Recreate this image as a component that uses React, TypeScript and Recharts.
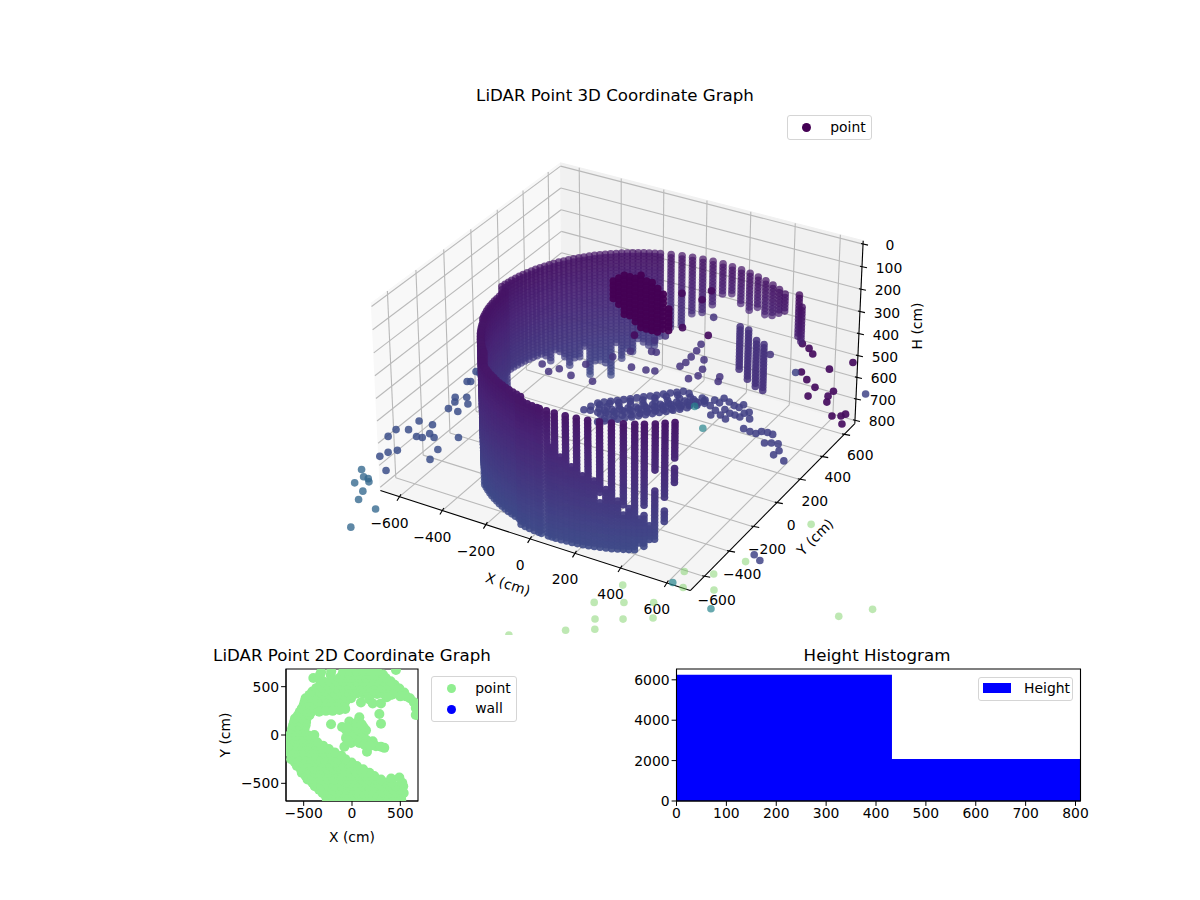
import {
  Area,
  AreaChart,
  Customized,
  ReferenceArea,
  Scatter,
  ScatterChart,
  XAxis,
  YAxis,
} from "recharts";

const FONT = "'DejaVu Sans', sans-serif";
const MINUS = "\u2212";

// ---- 3D panel values (cm) ----
const xLimits = [-690, 700];
const yLimits = [-510, 900];
const hLimits = [-15, 815];
const xTicks = [-600, -400, -200, 0, 200, 400, 600];
const yTicks = [-400, -200, 0, 200, 400, 600, 800];
const yTickLabels = [-600, -400, -200, 0, 200, 400, 600];
const hTicks = [0, 100, 200, 300, 400, 500, 600, 700, 800];

// wall columns round the room, and the height rows the scanner stepped through
const ringX = [606, 578, 548, 515, 480, 443, 405, 365, 323, 281, 237, 193, 148, 103, 57, 12, -33, -77, -121, -163, -205, -245, -283, -320, -355, -388, -418, -446, -471, -494, -514, -531, -545, -556, -564, -568, -535, -533, -529, -521, -510, -496, -479, -459, -436, -411, -383, -353, -320, -285, -248, -210, -170, -128, -86, -57, -13, 32, 77];
const ringY = [588, 624, 658, 689, 718, 745, 769, 790, 809, 824, 837, 846, 852, 856, 856, 852, 846, 837, 824, 809, 790, 769, 745, 718, 689, 658, 624, 588, 550, 511, 470, 428, 385, 341, 296, 251, 196, 151, 106, 61, 17, -26, -68, -109, -148, -186, -222, -256, -317, -346, -373, -397, -418, -437, -452, -485, -494, -500, -504];
const ringTop = [0, 236, 212, 0, 0, 272, 272, 272, 272, 272, 272, 272, 272, 272, 272, 272, 272, 272, 272, 272, 272, 272, 272, 272, 272, 272, 272, 272, 272, 272, 272, 272, 272, 272, 272, 272, 272, 272, 272, 272, 272, 272, 285, 285, 285, 285, 285, 285, 285, 300, 300, 300, 300, 300, 300, 300, 300, 300, 300];
const ringBottom = [0, 404, 404, 0, 0, 356, 400, 430, 440, 430, 460, 450, 404, 428, 490, 540, 560, 620, 640, 690, 730, 700, 750, 720, 812, 788, 716, 764, 740, 692, 716, 700, 700, 700, 700, 700, 740, 850, 850, 850, 850, 850, 884, 884, 884, 884, 884, 884, 884, 884, 884, 884, 884, 884, 884, 884, 884, 884, 884];
const hRows = [212, 228, 244, 260, 276, 292, 308, 324, 340, 356, 372, 388, 404, 420, 436, 452, 468, 484, 500, 516, 532, 548, 564, 580, 596, 612, 628, 644, 660, 676, 692, 708, 724, 740, 756, 772, 788, 804, 820, 836, 852, 868, 884];

// extra columns where the wall reads denser, left and back
const fillX = [-184, -225, -264, -302, -338, -372, -403, -432, -459, -483, -504, -523, -538, -551, -560, -566, -570, -535, -531, -525, -516, -503, -488, -469, -448, -424, -397, -368, -337, -303, -267, -229, -190, -149, -107, -64, -35, 10, 45];
const fillY = [800, 780, 757, 732, 704, 674, 641, 606, 569, 531, 491, 449, 407, 363, 319, 274, 229, 173, 128, 83, 39, -5, -47, -89, -129, -167, -204, -239, -302, -332, -360, -385, -408, -428, -445, -459, -490, -498, -502];
const fillTop = [272, 272, 272, 272, 272, 272, 272, 272, 272, 272, 272, 272, 272, 272, 272, 272, 272, 272, 272, 272, 272, 272, 272, 285, 285, 285, 285, 285, 285, 300, 300, 300, 300, 300, 300, 300, 300, 300, 300];
const fillBottom = [730, 720, 760, 800, 880, 790, 860, 770, 800, 720, 740, 700, 700, 700, 700, 700, 720, 850, 850, 850, 850, 850, 884, 884, 884, 884, 884, 884, 884, 884, 884, 884, 884, 884, 884, 884, 884, 884, 884];

// separate columns on the right of the front wall, with the gaps they show
const frontX = [535, 506, 477, 443, 412, 374, 333, 290, 246, 202, 157, 111];
const frontY = [-337, -361, -384, -406, -424, -443, -461, -475, -487, -496, -501, -504];
const frontBottom = [590, 760, 850, 870, 884, 884, 884, 884, 884, 884, 884, 884];
const frontHoleTop = [470, 650, 530, 680, 0, 680, 0, 640, 0, 0, 0, 0];
const frontHoleBottom = [500, 700, 600, 720, 0, 710, 0, 660, 0, 0, 0, 0];

// lower layer that closes the gaps between the front columns
const massX = [94, 134, 180, 224, 268, 312, 354, 393, 428, 460];
const massY = [-504, -503, -499, -492, -481, -468, -452, -434, -415, -395];
const massTop = [465, 490, 520, 550, 580, 610, 650, 690, 730, 770];
const massBottom = [884, 884, 884, 884, 884, 884, 884, 884, 860, 840];

// lower parts of the back wall on the right
const strandX = [193, 237, 281, 323];
const strandY = [846, 837, 824, 809];
const strandTop = [548, 548, 572, 572];
const strandBottom = [764, 788, 812, 812];

// dark blob under the scanner
const blobX = [-80, -55, -30, -5, 20, 45, 70, 95, 120, 145, 170];
const blobTop = [123, 107, 95, 88, 81, 79, 81, 87, 109, 129, 193];
const blobBottom = [230, 256, 281, 297, 305, 320, 328, 320, 323, 315, 309];
const blobRows = [80, 100, 120, 140, 160, 180, 200, 220, 240, 260, 280, 300, 320];

// blue floor clutter, h = 895: [x, y]
const floorBand = [
  [-250, 440], [-235, 470], [-220, 455], [-210, 490], [-195, 480], [-185, 510], [-170, 505], [-160, 535], [-145, 525], [-135, 560],
  [-120, 550], [-110, 585], [-95, 575], [-85, 610], [-70, 600], [-60, 630], [-45, 625], [-35, 655], [-20, 650], [-10, 680],
  [5, 670], [15, 705], [30, 700], [40, 735], [55, 725], [65, 765], [-240, 500], [-200, 530], [-165, 565], [-125, 600],
  [-90, 640], [-50, 675], [-15, 715], [20, 745],
  [-230, 430], [-205, 450], [-180, 470], [-155, 500], [-130, 520], [-105, 550], [-80, 570], [-55, 595], [-30, 620], [-5, 645],
  [20, 665], [45, 690], [70, 720], [85, 745], [-260, 470], [-245, 530], [-215, 555], [-180, 590], [-140, 625], [-105, 665],
  [-70, 700], [-35, 735], [0, 770], [-285, 440], [-275, 500], [-300, 470], [-310, 430],
  [-289, 508], [-270, 528], [-250, 548], [-230, 568], [-210, 588], [-190, 608], [-170, 628], [-150, 650], [-130, 670], [-110, 690], [-90, 712], [-70, 735], [-50, 755], [-30, 775],
  [-211, 372], [-190, 392], [-170, 412], [-150, 432], [-130, 455], [-110, 478], [-90, 500], [-70, 522], [-50, 545], [-30, 568], [-10, 590], [10, 612], [30, 635], [50, 660],
  [-200, 410], [-175, 445], [-150, 470], [-120, 490], [-95, 520], [-75, 545], [-50, 570], [-25, 595], [0, 620], [25, 650], [50, 680], [75, 700], [95, 730],
];
// floor patches on the right, h = 850: [x, y]
const floorPatch = [
  [120, 687], [160, 657], [154, 707], [197, 633], [182, 697], [180, 741], [227, 659], [213, 724], [259, 642], [245, 707],
  [284, 639], [270, 703], [309, 635], [275, 733], [310, 672], [324, 689], [199, 589], [233, 609], [266, 591], [351, 641],
  [367, 558], [400, 550], [428, 548], [440, 574], [465, 579], [490, 576], [493, 498], [517, 512], [544, 519], [572, 472], [568, 432], [625, 410],
];

// sparse points left of the wall: [x, y]
const leftFloor = [
  [-814, -210], [-811, -272], [-770, -185], [-772, -104], [-708, -103], [-712, -215], [-688, -210], [-679, -169], [-647, -186], [-562, -137],
  [-582, -259], [-567, -340], [-741, -378], [-752, -421], [-718, -346], [-670, -500], [-751, 136], [-724, 42], [-731, 102], [-678, 41],
  [-710, 160], [-676, 115], [-794, 366], [-772, 360], [-780, 274], [-767, 281],
];
const leftOutside = [
  [-790, -497], [-756, -596], [-752, -539], [-728, -542], [-712, -561], [-693, -632], [-672, -693], [-575, -719], [-583, -878],
];

// sparse points inside the room at h = 600: [x, y]
const roomScatter = [
  [-157, 720], [-78, 702], [-97, 646], [-137, 514], [-62, 557], [-42, 560], [-67, 399], [-5, 408], [30, 419], [99, 504],
  [279, 508], [292, 470], [368, 778], [16, 948], [-176, 437], [-243, 216], [-144, 218], [-392, 239], [-337, 198], [-312, 240], [-239, 327],
  [104, 544], [100, 597], [94, 655], [83, 713], [157, 601], [189, 529], [200, 471], [178, 431],
];

// dark points at mid height: [x, y, h]
const darkScatter = [
  [107, 499, 250], [202, 491, 250], [197, 579, 250], [248, 245, 250], [117, 96, 250], [365, 239, 250],
  [494, 814, 530], [535, 792, 530], [569, 757, 530], [683, 677, 530], [740, 774, 530], [597, 600, 530], [644, 554, 530], [700, 514, 530],
  [708, 437, 530], [776, 476, 530], [777, 522, 530], [793, 431, 530], [859, 342, 530], [889, 360, 530], [898, 382, 530], [920, 305, 530],
];
const blueScatter = [[602, 537, 500], [917, 519, 500], [846, -271, 850], [883, -296, 850]];
const tealScatter = [[92, 649, 870], [207, 506, 870], [666, -583, 860], [880, -681, 850]];

// far points below the box: [x, y, h]
const farPoints = [
  [521, -706, 850], [488, -861, 850], [583, -806, 850], [546, -955, 850], [635, -904, 850], [513, -1110, 820], [601, -1051, 820], [352, -1240, 820], [726, -842, 850],
  [674, -508, 850], [777, -467, 850], [723, -607, 850], [830, -564, 850], [840, -330, 850], [934, 34, 850], [678, -751, 850], [1338, -555, 800], [1424, -451, 800],
];

// ---- 2D panel values (cm) ----
const lowerBand = [
  [-260, -670], [-190, -670], [-120, -670], [-50, -670], [20, -670], [90, -670], [160, -670], [230, -670], [300, -670], [370, -670], [440, -670], [510, -670],
  [-270, -635], [-200, -635], [-130, -635], [-60, -635], [10, -635], [80, -635], [150, -635], [220, -635], [290, -635], [360, -635], [430, -635], [510, -635],
  [-305, -600], [-235, -600], [-165, -600], [-95, -600], [-25, -600], [45, -600], [115, -600], [185, -600], [255, -600], [325, -600], [395, -600], [465, -600], [535, -600],
  [-340, -565], [-270, -565], [-200, -565], [-130, -565], [-60, -565], [10, -565], [80, -565], [150, -565], [220, -565], [290, -565], [360, -565], [430, -565], [510, -565],
  [-385, -530], [-315, -530], [-245, -530], [-175, -530], [-105, -530], [-35, -530], [35, -530], [105, -530], [175, -530], [245, -530], [315, -530], [385, -530], [455, -530], [530, -530],
  [-410, -495], [-340, -495], [-270, -495], [-200, -495], [-130, -495], [-60, -495], [10, -495], [80, -495], [150, -495], [220, -495], [290, -495], [350, -495], [410, -490], [520, -495],
  [-460, -460], [-390, -460], [-320, -460], [-250, -460], [-180, -460], [-110, -460], [-40, -460], [30, -460], [100, -460], [170, -460], [240, -460], [300, -460], [405, -450], [490, -440],
  [-480, -425], [-410, -425], [-340, -425], [-270, -425], [-200, -425], [-130, -425], [-60, -425], [10, -425], [80, -425], [150, -425], [230, -425],
  [-520, -390], [-450, -390], [-380, -390], [-310, -390], [-240, -390], [-170, -390], [-100, -390], [-30, -390], [40, -390], [110, -390], [180, -390],
  [-530, -355], [-460, -355], [-390, -355], [-320, -355], [-250, -355], [-180, -355], [-110, -355], [-40, -355], [30, -355], [115, -355],
  [-570, -320], [-500, -320], [-430, -320], [-360, -320], [-290, -320], [-220, -320], [-150, -320], [-80, -320], [-10, -320], [50, -320],
  [-590, -285], [-520, -285], [-450, -285], [-380, -285], [-310, -285], [-240, -285], [-170, -285], [-100, -285], [-5, -285],
  [-630, -250], [-560, -250], [-490, -250], [-420, -250], [-350, -250], [-280, -250], [-210, -250], [-140, -250], [-70, -250],
  [-620, -215], [-550, -215], [-480, -215], [-410, -215], [-340, -215], [-270, -215], [-200, -215], [-110, -215],
  [-650, -180], [-580, -180], [-510, -180], [-440, -180], [-370, -180], [-300, -180], [-230, -180], [-180, -180],
  [-640, -145], [-570, -145], [-500, -145], [-430, -145], [-360, -145], [-290, -145], [-240, -145],
  [-650, -110], [-580, -110], [-510, -110], [-440, -110], [-370, -110], [-300, -110],
  [-640, -75], [-570, -75], [-500, -75], [-430, -75], [-360, -75],
  [-640, -40], [-570, -40], [-500, -40], [-435, -40], [-650, -5], [-580, -5], [-510, -5], [-450, -5],
];
const upperBand = [
  [-620, 30], [-550, 30], [-495, 30], [-620, 65], [-550, 65], [-490, 65], [-610, 100], [-540, 100], [-480, 100], [-600, 135], [-530, 135], [-475, 135],
  [-590, 170], [-520, 170], [-470, 170], [-560, 205], [-490, 205], [-440, 205], [-540, 240], [-470, 240], [-420, 240],
  [-520, 275], [-450, 275], [-380, 275], [-320, 275], [-500, 310], [-430, 310], [-360, 310], [-290, 310], [-220, 310], [-150, 310], [-90, 310],
  [-340, 240], [-270, 250], [-200, 250], [-130, 260], [-70, 270],
  [-490, 345], [-420, 345], [-350, 345], [-280, 345], [-210, 345], [-140, 345], [-70, 345],
  [-480, 380], [-410, 380], [-340, 380], [-270, 380], [-200, 380], [-130, 380], [-60, 380], [-10, 380],
  [-440, 415], [-370, 415], [-300, 415], [-230, 415], [-160, 415], [-90, 415], [-20, 415], [50, 430], [120, 425], [190, 425], [260, 425], [330, 425], [400, 415],
  [-410, 450], [-340, 450], [-270, 450], [-200, 450], [-130, 450], [-60, 450], [10, 450], [80, 450], [150, 450], [220, 450], [290, 450], [360, 450], [430, 450],
  [-370, 485], [-300, 485], [-230, 485], [-160, 485], [-90, 485], [-20, 485], [50, 485], [120, 485], [190, 485], [260, 485], [330, 485], [400, 485], [470, 485],
  [-330, 520], [-260, 520], [-190, 520], [-120, 520], [-50, 520], [20, 520], [90, 520], [160, 520], [230, 520], [300, 520], [370, 520], [440, 520],
  [-300, 555], [-230, 555], [-160, 555], [-90, 555], [-20, 555], [50, 555], [120, 555], [190, 555], [260, 555], [330, 555], [400, 555],
  [-400, 590], [-350, 590], [-130, 590], [-60, 590], [10, 590], [80, 590], [150, 590], [220, 590], [290, 590], [350, 590],
  [-330, 625], [-220, 620], [-100, 625], [-30, 625], [40, 625], [110, 625], [180, 625], [250, 625], [320, 625],
  [-320, 650], [-215, 660], [-90, 660], [-20, 660], [50, 660], [120, 660], [190, 660], [260, 660], [455, 673],
  [490, 480], [540, 440], [600, 380], [640, 340], [660, 280], [660, 207], [560, 400], [500, 400], [420, 420], [360, 390],
];
const centerBlob = [
  [-217, 112], [-390, 0], [-103, 82], [-28, 140], [76, 184], [41, 105], [145, 48], [-28, 20], [59, 3], [-62, -30], [145, -48], [-79, -122], [-10, -82],
  [76, -82], [214, -65], [155, -173], [248, -116], [334, -133], [300, -122], [300, 116], [283, 218], [93, 337], [180, 367], [214, 327], [300, 327], [30, 60], [100, 30],
  [0, 70], [60, 60], [120, 80], [-60, 50], [20, -30], [100, -30], [60, -60], [130, -100], [190, -110], [50, 130], [-50, 80], [0, -20], [100, 110], [-40, -60],
];
const wallPoints: number[][] = [];
const ticks2D = [-500, 0, 500];

// ---- histogram values ----
const histEdges = [0, 432, 810];
const histCounts = [6250, 2085, 2085];
const histXTicks = [0, 100, 200, 300, 400, 500, 600, 700, 800];
const histYTicks = [0, 2000, 4000, 6000];

// ---- matplotlib style 3D projection (elev 30, azim -60) ----
const BOX = 1.19;
const BOX_H = 0.72;

function project(x: number, y: number, h: number) {
  const dx = ((x - xLimits[0]) / (xLimits[1] - xLimits[0]) - 0.5) * BOX;
  const dy = ((y - yLimits[0]) / (yLimits[1] - yLimits[0]) - 0.5) * BOX;
  const dz = ((hLimits[1] - h) / (hLimits[1] - hLimits[0]) - 0.5) * BOX_H;
  const depth = 10 - (0.433 * dx - 0.75 * dy + 0.5 * dz);
  const u = 0.866 * dx + 0.5 * dy;
  const v = -0.25 * dx + 0.433 * dy + 0.866 * dz;
  return { sx: 622 + (2970 * u) / depth, sy: 365.5 - (2970 * v) / depth, depth };
}

const viridis = [
  [68, 1, 84], [72, 36, 117], [65, 68, 135], [53, 95, 141], [42, 120, 142], [33, 145, 140],
  [34, 168, 132], [68, 191, 112], [122, 209, 81], [189, 223, 38], [253, 231, 37],
];
function toneColor(t: number) {
  const p = Math.max(0, Math.min(0.999, t)) * 10;
  const i = Math.floor(p);
  const f = p - i;
  const c = viridis[i].map((v, k) => Math.round(v + (viridis[i + 1][k] - v) * f));
  return `rgb(${c[0]},${c[1]},${c[2]})`;
}
const wallTone = (h: number) => 0.05 + (h - 260) * 0.000278;

type Pt = { sx: number; sy: number; depth: number; fill: string; alpha: number };
const cloud: Pt[] = [];
function addPoint(x: number, y: number, h: number, tone: number, alpha?: number) {
  const p = project(x, y, h);
  const a = alpha ?? Math.max(0.7, Math.min(0.97, 0.8 + 0.35 * (10 - p.depth)));
  cloud.push({ ...p, fill: toneColor(tone), alpha: a });
}

ringX.forEach((x, i) => {
  hRows.forEach((h) => {
    if (h >= ringTop[i] && h <= ringBottom[i]) addPoint(x, ringY[i], h, wallTone(h));
  });
});
fillX.forEach((x, i) => {
  hRows.forEach((h) => {
    if (h >= fillTop[i] && h <= fillBottom[i]) addPoint(x, fillY[i], h, wallTone(h));
  });
});
frontX.forEach((x, i) => {
  hRows.forEach((h) => {
    if (h < 300 || h > frontBottom[i]) return;
    if (h >= frontHoleTop[i] && h <= frontHoleBottom[i]) return;
    addPoint(x, frontY[i], h, wallTone(h));
  });
});
massX.forEach((x, i) => {
  hRows.forEach((h) => {
    if (h >= massTop[i] && h <= massBottom[i]) addPoint(x, massY[i], h, wallTone(h));
  });
});
strandX.forEach((x, i) => {
  hRows.forEach((h) => {
    if (h >= strandTop[i] && h <= strandBottom[i]) addPoint(x, strandY[i], h, 0.14, 0.85);
  });
});
blobX.forEach((x, i) => {
  blobRows.forEach((h) => {
    if (h >= blobTop[i] && h <= blobBottom[i]) addPoint(x, 275, h, 0, 0.95);
  });
});
floorBand.forEach(([x, y]) => addPoint(x, y, 895, 0.19, 0.88));
floorPatch.forEach(([x, y]) => addPoint(x, y, 850, 0.19, 0.88));
leftFloor.forEach(([x, y]) => addPoint(x, y, 815, 0.24, 0.85));
leftOutside.forEach(([x, y]) => addPoint(x, y, 850, 0.33, 0.78));
roomScatter.forEach(([x, y]) => addPoint(x, y, 600, 0.15, 0.85));
darkScatter.forEach(([x, y, h]) => addPoint(x, y, h, 0.03, 0.92));
blueScatter.forEach(([x, y, h]) => addPoint(x, y, h, 0.2, 0.85));
tealScatter.forEach(([x, y, h]) => addPoint(x, y, h, 0.45, 0.7));
farPoints.forEach(([x, y, h]) => addPoint(x, y, h, 0.78, 0.45));
cloud.sort((a, b) => b.depth - a.depth);

const fmt = (v: number) => String(v).replace("-", MINUS);

function CloudDot(props: any) {
  const d = props.payload as Pt;
  return <circle cx={props.cx} cy={props.cy} r={3.8} fill={d.fill} fillOpacity={d.alpha} />;
}

// panes, grid, axis lines and tick labels of the 3D box
function Box3D() {
  const [x0, x1] = xLimits;
  const [y0, y1] = yLimits;
  const [ht, hb] = hLimits;
  const pane = (corners: number[][], fill: string) => (
    <polygon
      points={corners.map(([x, y, h]) => {
        const p = project(x, y, h);
        return `${p.sx},${p.sy}`;
      }).join(" ")}
      fill={fill}
      stroke={fill}
    />
  );
  const seg = (a: number[], b: number[], stroke: string, key: string) => {
    const p = project(a[0], a[1], a[2]);
    const q = project(b[0], b[1], b[2]);
    return <line key={key} x1={p.sx} y1={p.sy} x2={q.sx} y2={q.sy} stroke={stroke} strokeWidth={1.1} />;
  };
  const label = (sx: number, sy: number, value: string, key: string) => (
    <text key={key} x={sx} y={sy} dy="0.36em" textAnchor="middle" fontSize={13.9} fontFamily={FONT} fill="#000">
      {value}
    </text>
  );
  const grid = "#b9b9b9";
  return (
    <g>
      {pane([[x0, y0, hb], [x0, y1, hb], [x0, y1, ht], [x0, y0, ht]], "#f8f8f8")}
      {pane([[x0, y1, hb], [x1, y1, hb], [x1, y1, ht], [x0, y1, ht]], "#f1f1f1")}
      {pane([[x0, y0, hb], [x1, y0, hb], [x1, y1, hb], [x0, y1, hb]], "#f5f5f5")}
      {xTicks.map((x) => seg([x, y0, hb], [x, y1, hb], grid, `gxf${x}`))}
      {xTicks.map((x) => seg([x, y1, hb], [x, y1, ht], grid, `gxb${x}`))}
      {yTicks.map((y) => seg([x0, y, hb], [x1, y, hb], grid, `gyf${y}`))}
      {yTicks.map((y) => seg([x0, y, hb], [x0, y, ht], grid, `gyl${y}`))}
      {hTicks.map((h) => seg([x0, y0, h], [x0, y1, h], grid, `ghl${h}`))}
      {hTicks.map((h) => seg([x0, y1, h], [x1, y1, h], grid, `ghb${h}`))}
      {seg([x0, y0, hb], [x1, y0, hb], "#000", "ax")}
      {seg([x1, y0, hb], [x1, y1, hb], "#000", "ay")}
      {seg([x1, y1, hb], [x1, y1, ht], "#000", "az")}
      {xTicks.map((x) => {
        const p = project(x, y0, hb);
        return (
          <g key={`tx${x}`}>
            <line x1={p.sx - 2.5} y1={p.sy + 4} x2={p.sx + 1.5} y2={p.sy - 2.5} stroke="#000" strokeWidth={1.1} />
            {label(p.sx - 10, p.sy + 26, fmt(x), `lx${x}`)}
          </g>
        );
      })}
      {yTicks.map((y) => {
        const p = project(x1, y, hb);
        return <line key={`ty${y}`} x1={p.sx - 2} y1={p.sy - 0.6} x2={p.sx + 6} y2={p.sy + 0.9} stroke="#000" strokeWidth={1.1} />;
      })}
      {yTickLabels.map((y) => {
        const p = project(x1, y, hb);
        return label(p.sx + 38, p.sy - 2, fmt(y), `ly${y}`);
      })}
      {hTicks.map((h) => {
        const p = project(x1, y1, h);
        return (
          <g key={`th${h}`}>
            <line x1={p.sx - 2} y1={p.sy - 0.6} x2={p.sx + 5} y2={p.sy + 1} stroke="#000" strokeWidth={1.1} />
            {label(p.sx + 27, p.sy + 1, fmt(h), `lh${h}`)}
          </g>
        );
      })}
      <text x={508} y={584} dy="0.36em" textAnchor="middle" fontSize={13.9} fontFamily={FONT} transform="rotate(18 508 584)">X (cm)</text>
      <text x={815} y={537} dy="0.36em" textAnchor="middle" fontSize={13.9} fontFamily={FONT} transform="rotate(-45 815 537)">Y (cm)</text>
      <text x={917} y={326} dy="0.36em" textAnchor="middle" fontSize={13.9} fontFamily={FONT} transform="rotate(-90 917 326)">H (cm)</text>
    </g>
  );
}

const text = (left: number, top: number, value: string, size = 13.9) => (
  <div style={{ position: "absolute", left, top, transform: "translate(-50%,-50%)", fontFamily: FONT, fontSize: size, whiteSpace: "nowrap", color: "#000" }}>
    {value}
  </div>
);
const legendBox = (left: number, top: number, width: number, height: number) => (
  <div style={{ position: "absolute", left, top, width, height, boxSizing: "border-box", background: "rgba(255,255,255,0.8)", border: "1px solid #d5d5d5", borderRadius: 3 }} />
);
const legendDot = (left: number, top: number, color: string) => (
  <div style={{ position: "absolute", left: left - 4.5, top: top - 4.5, width: 9, height: 9, borderRadius: "50%", background: color }} />
);

const tickStyle = { fontSize: 13.9, fontFamily: FONT, fill: "#000" };
const allPoints2D = [...lowerBand, ...upperBand, ...centerBlob].map(([x, y]) => ({ x, y }));
const walls2D = wallPoints.map(([x, y]) => ({ x, y }));
const histData = histEdges.map((edge, i) => ({ edge, count: histCounts[i] }));

export default function App() {
  return (
    <div style={{ position: "absolute", left: 0, top: 0, width: 1200, height: 900, background: "#fff", overflow: "hidden" }}>
      <div style={{ position: "absolute", left: 0, top: 0 }}>
        <ScatterChart width={1200} height={635} margin={{ top: 0, right: 0, bottom: 0, left: 0 }}>
          <XAxis type="number" dataKey="sx" domain={[0, 1200]} hide />
          <YAxis type="number" dataKey="sy" domain={[0, 635]} reversed hide />
          <Customized component={Box3D} />
          <Scatter data={cloud} isAnimationActive={false} shape={CloudDot} />
        </ScatterChart>
      </div>
      {text(615, 95, "LiDAR Point 3D Coordinate Graph", 16.67)}
      {legendBox(787, 115, 85, 25)}
      {legendDot(806, 127.5, "#440154")}
      {text(848, 127, "point")}

      <div style={{ position: "absolute", left: 200, top: 640 }}>
        <ScatterChart width={330} height={210} margin={{ top: 29, right: 112, bottom: 0, left: 0 }}>
          <XAxis
            type="number"
            dataKey="x"
            domain={[-683, 683]}
            ticks={ticks2D}
            allowDataOverflow
            height={49}
            tick={tickStyle}
            tickSize={4.9}
            tickFormatter={fmt}
            stroke="#000"
            label={{ value: "X (cm)", position: "insideBottom", offset: 8, style: tickStyle }}
          />
          <YAxis
            type="number"
            dataKey="y"
            domain={[-683, 683]}
            ticks={ticks2D}
            allowDataOverflow
            width={86}
            tick={tickStyle}
            tickSize={4.9}
            tickFormatter={fmt}
            stroke="#000"
            label={{ value: "Y (cm)", angle: -90, position: "insideLeft", offset: 25, style: { ...tickStyle, textAnchor: "middle" } }}
          />
          <Scatter
            name="point"
            data={allPoints2D}
            isAnimationActive={false}
            shape={(p: any) => <circle cx={p.cx} cy={p.cy} r={5} fill="#90ee90" />}
          />
          <Scatter name="wall" data={walls2D} fill="#0000ff" isAnimationActive={false} />
          <ReferenceArea x1={-683} x2={683} y1={-683} y2={683} fill="none" stroke="#000" strokeWidth={1.1} />
        </ScatterChart>
      </div>
      {text(352, 655, "LiDAR Point 2D Coordinate Graph", 16.67)}
      {legendBox(431, 676, 86, 46)}
      {legendDot(451, 688, "#90ee90")}
      {legendDot(451, 709, "#0000ff")}
      {text(493, 688, "point")}
      {text(489, 708, "wall")}

      <div style={{ position: "absolute", left: 620, top: 640 }}>
        <AreaChart width={480} height={210} data={histData} margin={{ top: 29, right: 19.5, bottom: 0, left: 0 }}>
          <XAxis
            type="number"
            dataKey="edge"
            domain={[0, 810]}
            ticks={histXTicks}
            interval={0}
            height={49}
            tick={tickStyle}
            tickSize={4.9}
            stroke="#000"
          />
          <YAxis
            type="number"
            domain={[0, 6536]}
            ticks={histYTicks}
            interval={0}
            width={56.5}
            tick={tickStyle}
            tickSize={4.9}
            stroke="#000"
          />
          <Area type="stepAfter" dataKey="count" name="Height" fill="#0000ff" fillOpacity={1} stroke="none" isAnimationActive={false} dot={false} activeDot={false} />
          <ReferenceArea x1={0} x2={810} y1={0} y2={6536} fill="none" stroke="#000" strokeWidth={1.1} />
        </AreaChart>
      </div>
      {text(877, 655, "Height Histogram", 16.67)}
      {legendBox(978, 677, 95, 24)}
      <div style={{ position: "absolute", left: 983, top: 683, width: 28, height: 10, background: "#0000ff" }} />
      {text(1047, 688, "Height")}
    </div>
  );
}
